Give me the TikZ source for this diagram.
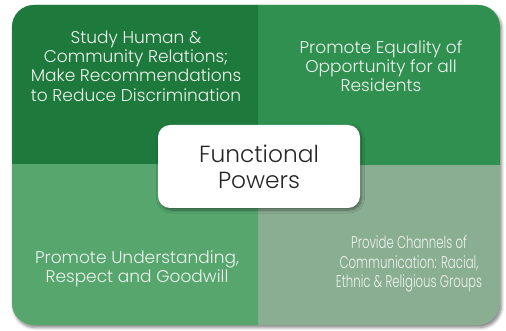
\documentclass[tikz,border=0pt]{standalone}
\usepackage{fontspec}
\setmainfont{Poppins}[UprightFont=* Light]
\usetikzlibrary{shadows.blur}
\definecolor{qtl}{HTML}{1E7A3C}
\definecolor{qtr}{HTML}{2F9050}
\definecolor{qbl}{HTML}{56A66E}
\definecolor{qbr}{HTML}{8AAE92}
\definecolor{qtext}{HTML}{EEF3EE}
\begin{document}
\begin{tikzpicture}[x=1pt,y=-1pt,
  qlabel/.style={text=qtext, align=center, font=\fontsize{17}{19.3}\selectfont, inner sep=0pt},
  centerbox/.style={fill=white, rounded corners=12pt, minimum width=202pt, minimum height=83pt,
    align=center, font=\fontsize{23.3}{26}\selectfont, text=black!85,
    blur shadow={shadow xshift=1.5pt, shadow yshift=-2pt, shadow blur steps=6, shadow blur radius=3pt, shadow opacity=45}}]
\useasboundingbox (0,0) rectangle (506,331);
% outer shape with shadow
\fill[qbr, rounded corners=22pt, blur shadow={shadow xshift=1.5pt, shadow yshift=-2.5pt, shadow blur steps=6, shadow blur radius=3pt, shadow opacity=50}] (12,5) rectangle (500,325);
\begin{scope}
  \clip (0,0) rectangle (258,165);
  \fill[qtl, rounded corners=22pt] (12,5) rectangle (500,325);
\end{scope}
\begin{scope}
  \clip (258,0) rectangle (506,165);
  \fill[qtr, rounded corners=22pt] (12,5) rectangle (500,325);
\end{scope}
\begin{scope}
  \clip (0,165) rectangle (258,331);
  \fill[qbl, rounded corners=22pt] (12,5) rectangle (500,325);
\end{scope}
\node[qlabel] (tl) at (136,66) {Study Human \&\\Community Relations;\\Make Recommendations\\to Reduce Discrimination};
\node[qlabel] (tr) at (381,66) {Promote Equality of\\Opportunity for all\\Residents};
\node[qlabel] (bl) at (137,269) {Promote Understanding,\\Respect and Goodwill};
\node[qlabel, xscale=0.69, transform shape] (br) at (409,264) {Provide Channels of\\Communication: Racial,\\Ethnic \& Religious Groups};
\node[centerbox] (fp) at (259,166.5) {Functional\\Powers};
\end{tikzpicture}
\end{document}
